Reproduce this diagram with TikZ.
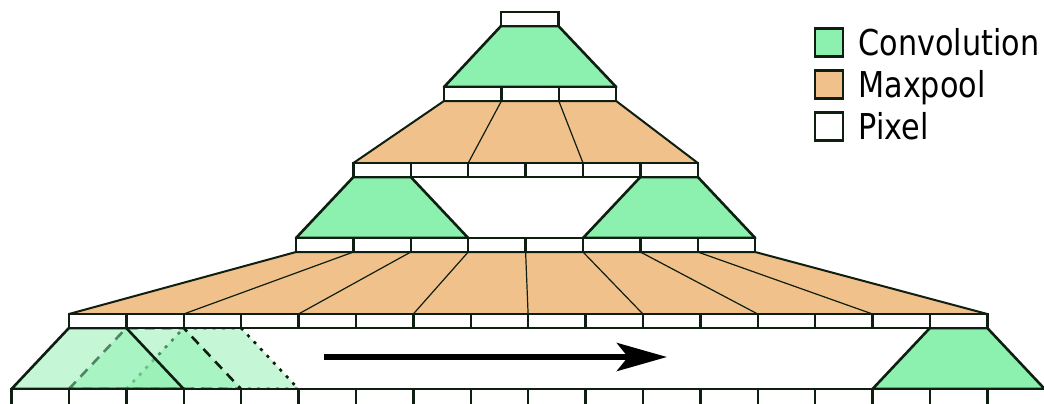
\documentclass[tikz,border=0pt]{standalone}
\usepackage{fontspec}
\setmainfont{DejaVu Sans}[FakeStretch=0.85]
\usetikzlibrary{positioning,arrows.meta,backgrounds}
\definecolor{convgreen}{RGB}{140,240,174}
\definecolor{poolorange}{RGB}{240,193,139}
\definecolor{edgedark}{RGB}{14,30,16}

\begin{document}
\begin{tikzpicture}[x=0.5pt,y=-0.5pt,node distance=21pt,
  pixel/.style={rectangle,draw=edgedark,fill=white,line width=1.2pt,minimum width=28.7pt,minimum height=7pt,inner sep=0pt,outer sep=0pt},
  conv/.style={fill=convgreen,draw=edgedark,line width=1.3pt,line join=round},
  pool/.style={fill=poolorange,draw=edgedark,line width=1pt,line join=round},
  poolsplit/.style={draw=edgedark,line width=0.6pt},
  legbox/.style={rectangle,draw=edgedark,line width=1.2pt,minimum size=14pt,inner sep=0pt,outer sep=0pt,
    label={[inner sep=0pt,xshift=7.5pt,text height=13pt,text depth=0pt,font=\fontsize{17.8pt}{20pt}\selectfont]right:#1}}]
\useasboundingbox (0,0) rectangle (1044,403);

% Pixel rows, bottom to top
\foreach \i in {1,...,18}
  \node (a\i) [pixel,minimum height=9pt] at ({11.5+57.4*(\i-0.5)},398) {};
\foreach \i in {1,...,16}
  \node (b\i) [pixel] at ({68.9+57.4*(\i-0.5)},321) {};
\foreach \i in {1,...,8}
  \node (c\i) [pixel] at ({296+57.4*(\i-0.5)},245) {};
\foreach \i in {1,...,6}
  \node (d\i) [pixel] at ({353.4+57.4*(\i-0.5)},170) {};
\foreach \i in {1,...,3}
  \node (e\i) [pixel] at ({444+57.4*(\i-0.5)},94) {};
\node (f1) [pixel] at (529.7,19) {};

\begin{pgfonlayer}{background}
% Sliding window
\draw [conv,fill opacity=0.5,dash pattern=on 1.5pt off 3.2pt] (a3.north west) -- (b3.south west) -- (b3.south east) -- (a5.north east) -- cycle;
\draw [conv,fill opacity=0.5,dash pattern=on 5pt off 3.5pt] (a2.north west) -- (b2.south west) -- (b2.south east) -- (a4.north east) -- cycle;
\draw [conv,fill opacity=0.5] (a1.north west) -- (b1.south west) -- (b1.south east) -- (a3.north east) -- cycle;
\draw [conv] (a16.north west) -- (b16.south west) -- (b16.south east) -- (a18.north east) -- cycle;

\draw [pool] (b1.north west) -- (c1.south west) -- (c8.south east) -- (b16.north east) -- cycle;
\foreach \k in {1,...,7}
  \pgfmathtruncatemacro{\j}{2*\k}
  \draw [poolsplit] (c\k.south east) -- (b\j.north east);

\draw [conv] (c1.north west) -- (d1.south west) -- (d1.south east) -- (c3.north east) -- cycle;
\draw [conv] (c6.north west) -- (d6.south west) -- (d6.south east) -- (c8.north east) -- cycle;

\draw [pool] (d1.north west) -- (e1.south west) -- (e3.south east) -- (d6.north east) -- cycle;
\draw [poolsplit] (e1.south east) -- (d2.north east);
\draw [poolsplit] (e2.south east) -- (d4.north east);

\draw [conv] (e1.north west) -- (f1.south west) -- (f1.south east) -- (e3.north east) -- cycle;
\end{pgfonlayer}

\coordinate (slidestart) at (324,357);
\coordinate (slideend) at (667,357);
\draw [line width=3pt,-{Stealth[length=25pt,width=14pt,inset=5.5pt]}] (slidestart) -- (slideend);

% Legend
\node (legconv) [legbox=Convolution,fill=convgreen] at (829,42.5) {};
\node (legpool) [legbox=Maxpool,fill=poolorange,below of=legconv] {};
\node (legpix) [legbox=Pixel,fill=white,below of=legpool] {};

\end{tikzpicture}
\end{document}
